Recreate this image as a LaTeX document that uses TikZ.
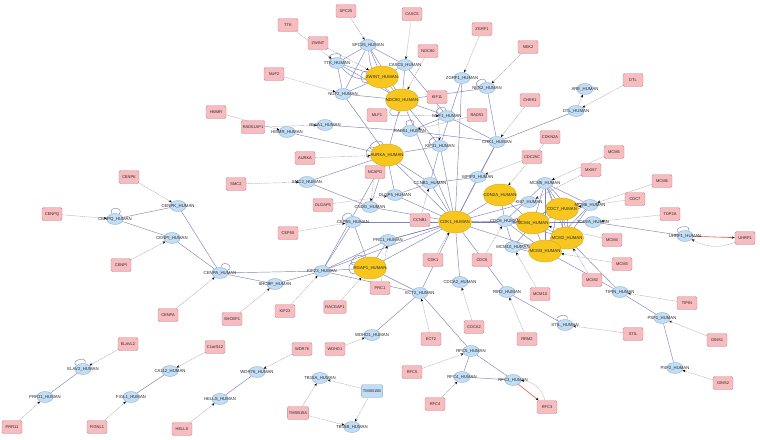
\documentclass[tikz,border=0pt]{standalone}
\usepackage{fontspec}
\setmainfont{Liberation Sans}
\usetikzlibrary{arrows.meta,shapes.geometric}
\pgfdeclarelayer{bg}
\pgfdeclarelayer{paper}
\pgfsetlayers{paper,bg,main}
\definecolor{pinkf}{HTML}{F6BCC0}
\definecolor{pinkd}{HTML}{C98A8E}
\definecolor{bluef}{HTML}{C2DDF4}
\definecolor{blued}{HTML}{8DB2D8}
\definecolor{yelf}{HTML}{F7C71F}
\definecolor{yeld}{HTML}{D9AA10}
\definecolor{ppic}{HTML}{6E6EAE}
\definecolor{mapc}{HTML}{ABABAB}
\definecolor{redc}{HTML}{E4573A}
\newcommand\hu[1]{#1\_HUMAN}
\begin{document}
\begin{tikzpicture}[x=1pt,y=-1pt,
  lab/.style={font=\fontsize{4.3}{4.3}\selectfont, inner sep=0pt, text=black!85},
  bn/.style={ellipse, draw=blued, fill=bluef, line width=0.4pt, minimum width=16pt, minimum height=11pt, inner sep=0pt},
  yn/.style={ellipse, draw=yeld, fill=yelf, line width=0.4pt, minimum width=33pt, minimum height=22pt, inner sep=0pt},
  pn/.style={rectangle, rounded corners=1.5pt, draw=pinkd, fill=pinkf, line width=0.4pt, minimum width=20pt, minimum height=13pt, inner xsep=1.5pt, font=\fontsize{4}{4}\selectfont, text=black!85},
  bbx/.style={pn, draw=blued, fill=bluef},
  ppi/.style={draw=ppic, line width=0.45pt, draw opacity=0.85},
  mapl/.style={draw=mapc, line width=0.4pt, dash pattern=on 1.2pt off 0.6pt, -{Stealth[length=3pt,width=2.4pt,color=black]}},
  redl/.style={draw=redc, line width=0.6pt, -{Stealth[length=3pt,width=2.4pt,color=black]}},
  sl/.style={ppi, looseness=1, min distance=9pt, max distance=9pt}
]
\begin{pgfonlayer}{paper}
\fill[white] (0,0) rectangle (760,439);
\end{pgfonlayer}
\useasboundingbox (0,0) rectangle (760,439);

% ---------- pink gene boxes ----------
\node[pn] (spc25) at (346,11) {SPC25};
\node[pn] (casc5) at (412,14) {CASC5};
\node[pn] (zgrf1) at (482,29) {ZGRF1};
\node[pn] (nek2) at (528,47) {NEK2};
\node[pn] (ttk) at (288,25) {TTK};
\node[pn] (zwint) at (318,43) {ZWINT};
\node[pn] (ndc80) at (428,51) {NDC80};
\node[pn] (nuf2) at (274,74) {NUF2};
\node[pn] (kif11) at (437,97) {KIF11};
\node[pn] (mlf1) at (377,115) {MLF1};
\node[pn] (rad51) at (477,115) {RAD51};
\node[pn] (chek1) at (530,100) {CHEK1};
\node[pn] (dtl) at (633,80) {DTL};
\node[pn] (hmmr) at (216,112) {HMMR};
\node[pn] (rad51ap1) at (253,127) {RAD51AP1};
\node[pn] (cdkn2a) at (550,137) {CDKN2A};
\node[pn] (aurka) at (305,158) {AURKA};
\node[pn] (ncapg) at (375,172) {NCAPG};
\node[pn] (smc2) at (236,184) {SMC2};
\node[pn] (dlgap5) at (323,205) {DLGAP5};
\node[pn] (cep55) at (288,233) {CEP55};
\node[pn] (cdc25c) at (532,157) {CDC25C};
\node[pn] (mcm5) at (614,152) {MCM5};
\node[pn] (mki67) at (591,170) {MKI67};
\node[pn] (mcm6) at (662,181) {MCM6};
\node[pn] (cdc7) at (635,199) {CDC7};
\node[pn] (top2a) at (670,214) {TOP2A};
\node[pn] (mcm4) at (612,240) {MCM4};
\node[pn] (mcm3) at (622,264) {MCM3};
\node[pn] (mcm2) at (592,280) {MCM2};
\node[pn] (uhrf1) at (745,238) {UHRF1};
\node[pn] (ccnb1) at (420,220) {CCNB1};
\node[pn] (cdk1) at (433,260) {CDK1};
\node[pn] (cdc6) at (482,260) {CDC6};
\node[pn] (cenpk) at (129,177) {CENPK};
\node[pn] (cenpq) at (52,214) {CENPQ};
\node[pn] (cenpi) at (121,265) {CENPI};
\node[pn] (cenpa) at (168,315) {CENPA};
\node[pn] (shcbp1) at (232,319) {SHCBP1};
\node[pn] (kif23) at (285,311) {KIF23};
\node[pn] (racgap1) at (335,307) {RACGAP1};
\node[pn] (prc1) at (380,288) {PRC1};
\node[pn] (mcm10) at (540,294) {MCM10};
\node[pn] (cdca2) at (474,327) {CDCA2};
\node[pn] (ect2) at (431,339) {ECT2};
\node[pn] (rrm2) at (527,339) {RRM2};
\node[pn] (tipin) at (687,303) {TIPIN};
\node[pn] (stil) at (633,334) {STIL};
\node[pn] (gins1) at (717,340) {GINS1};
\node[pn] (gins2) at (723,383) {GINS2};
\node[pn] (rfc5) at (412,372) {RFC5};
\node[pn] (rfc4) at (435,404) {RFC4};
\node[pn] (rfc3) at (547,407) {RFC3};
\node[pn] (elavl2) at (128,344) {ELAVL2};
\node[pn] (c1orf112) at (215,347) {C1orf112};
\node[pn] (wdr76) at (302,349) {WDR76};
\node[pn] (wdhd1) at (335,349) {WDHD1};
\node[pn] (tmsb15a) at (298,413) {TMSB15A};
\node[pn] (prr11) at (12,427) {PRR11};
\node[pn] (fignl1) at (97,427) {FIGNL1};
\node[pn] (hells) at (182,429) {HELLS};
\node[bbx] (tmsb15b) at (372,391) {TMSB15B};

% ---------- yellow hub proteins ----------
\node[yn,label={[lab]center:\hu{ZWINT}}] (zwinth) at (382,77) {};
\node[yn,label={[lab]center:\hu{NDC80}}] (ndc80h) at (402,100) {};
\node[yn,label={[lab]center:\hu{AURKA}}] (aurkah) at (387,155) {};
\node[yn,label={[lab]center:\hu{CDK1}}] (cdk1h) at (455,222) {};
\node[yn,label={[lab]center:\hu{CDN2A}}] (cdn2ah) at (500,195) {};
\node[yn,label={[lab]center:\hu{CDC7}}] (cdc7h) at (562,209) {};
\node[yn,label={[lab]center:\hu{MCM4}}] (mcm4h) at (533,223) {};
\node[yn,label={[lab]center:\hu{MCM2}}] (mcm2h) at (567,238) {};
\node[yn,label={[lab]center:\hu{MCM3}}] (mcm3h) at (545,251) {};
\node[yn,label={[lab]center:\hu{RGAP1}}] (rgap1h) at (370,268) {};

% ---------- blue proteins ----------
\node[bn,label={[lab]center:\hu{SPC25}}] (spc25h) at (368,45) {};
\node[bn,label={[lab]center:\hu{TTK}}] (ttkh) at (337,63) {};
\node[bn,label={[lab]center:\hu{NUF2}}] (nuf2h) at (343,94) {};
\node[bn,label={[lab]center:\hu{CASC5}}] (casc5h) at (405,65) {};
\node[bn,label={[lab]center:\hu{ZGRF1}}] (zgrf1h) at (462,78) {};
\node[bn,label={[lab]center:\hu{NEK2}}] (nek2h) at (487,88) {};
\node[bn,label={[lab]center:\hu{MLF1}}] (mlf1h) at (447,116) {};
\node[bn,label={[lab]center:\hu{RAD51}}] (rad51h) at (410,131) {};
\node[bn,label={[lab]center:\hu{KIF11}}] (kif11h) at (440,146) {};
\node[bn,label={[lab]center:\hu{CHK1}}] (chk1h) at (497,142) {};
\node[bn,label={[lab]center:\hu{DTL}}] (dtlh) at (576,111) {};
\node[bn,label={[lab]center:\hu{ARE}}] (areh) at (585,89) {};
\node[bn,label={[lab]center:\hu{HMMR}}] (hmmrh) at (287,132) {};
\node[bn,label={[lab]center:\hu{R51A1}}] (r51a1h) at (325,125) {};
\node[bn,label={[lab]center:\hu{SMC2}}] (smc2h) at (307,182) {};
\node[bn,label={[lab]center:\hu{CNDG}}] (cndgh) at (370,207) {};
\node[bn,label={[lab]center:\hu{DLGP5}}] (dlgp5h) at (395,195) {};
\node[bn,label={[lab]center:\hu{CEP55}}] (cep55h) at (353,222) {};
\node[bn,label={[lab]center:\hu{CCNB1}}] (ccnb1h) at (430,183) {};
\node[bn,label={[lab]center:\hu{MPIP3}}] (mpip3h) at (478,177) {};
\node[bn,label={[lab]center:\hu{MCM5}}] (mcm5h) at (545,183) {};
\node[bn,label={[lab]center:\hu{KI67}}] (ki67h) at (529,202) {};
\node[bn,label={[lab]center:\hu{MCM6}}] (mcm6h) at (590,205) {};
\node[bn,label={[lab]center:\hu{TOP2A}}] (top2ah) at (593,222) {};
\node[bn,label={[lab]center:\hu{UHRF1}}] (uhrf1h) at (685,236) {};
\node[bn,label={[lab]center:\hu{CDC6}}] (cdc6h) at (505,221) {};
\node[bn,label={[lab]center:\hu{MCM10}}] (mcm10h) at (513,247) {};
\node[bn,label={[lab]center:\hu{CDCA2}}] (cdca2h) at (460,282) {};
\node[bn,label={[lab]center:\hu{ECT2}}] (ect2h) at (420,293) {};
\node[bn,label={[lab]center:\hu{RIR2}}] (rir2h) at (507,292) {};
\node[bn,label={[lab]center:\hu{STIL}}] (stilh) at (565,325) {};
\node[bn,label={[lab]center:\hu{TIPIN}}] (tipinh) at (620,292) {};
\node[bn,label={[lab]center:\hu{PSF1}}] (psf1h) at (662,318) {};
\node[bn,label={[lab]center:\hu{PSF2}}] (psf2h) at (675,368) {};
\node[bn,label={[lab]center:\hu{RFC5}}] (rfc5h) at (471,351) {};
\node[bn,label={[lab]center:\hu{RFC4}}] (rfc4h) at (462,377) {};
\node[bn,label={[lab]center:\hu{RFC3}}] (rfc3h) at (513,380) {};
\node[bn,label={[lab]center:\hu{PRC1}}] (prc1h) at (388,240) {};
\node[bn,label={[lab]center:\hu{KIF23}}] (kif23h) at (322,271) {};
\node[bn,label={[lab]center:\hu{SHCBP}}] (shcbph) at (275,284) {};
\node[bn,label={[lab]center:\hu{CENPA}}] (cenpah) at (220,273) {};
\node[bn,label={[lab]center:\hu{CENPK}}] (cenpkh) at (178,206) {};
\node[bn,label={[lab]center:\hu{CENPQ}}] (cenpqh) at (115,219) {};
\node[bn,label={[lab]center:\hu{CENPI}}] (cenpih) at (172,238) {};
\node[bn,label={[lab]center:\hu{ELAV2}}] (elav2h) at (83,369) {};
\node[bn,label={[lab]center:\hu{PRR11}}] (prr11h) at (45,397) {};
\node[bn,label={[lab]center:\hu{CA112}}] (ca112h) at (170,371) {};
\node[bn,label={[lab]center:\hu{FIGL1}}] (figl1h) at (131,397) {};
\node[bn,label={[lab]center:\hu{WDR76}}] (wdr76h) at (257,372) {};
\node[bn,label={[lab]center:\hu{HELLS}}] (hellsh) at (220,399) {};
\node[bn,label={[lab]center:\hu{WDHD1}}] (wdhd1h) at (372,335) {};
\node[bn,label={[lab]center:\hu{TB15A}}] (tb15ah) at (320,378) {};
\node[bn,label={[lab]center:\hu{TB15B}}] (tb15bh) at (352,427) {};

\begin{pgfonlayer}{bg}
% protein-protein interactions
\foreach \a/\b in {spc25h/ttkh, spc25h/zwinth, spc25h/nuf2h, spc25h/ndc80h, spc25h/casc5h,
  ttkh/zwinth, ttkh/nuf2h, ttkh/ndc80h, nuf2h/zwinth, nuf2h/ndc80h, nuf2h/aurkah,
  zwinth/ndc80h, zwinth/casc5h, casc5h/ndc80h, casc5h/mlf1h,
  ndc80h/kif11h, ndc80h/aurkah, ndc80h/cdk1h, ndc80h/nek2h, ndc80h/mlf1h,
  zgrf1h/kif11h, zgrf1h/cdk1h, nek2h/chk1h,
  chk1h/dtlh, chk1h/cdk1h, chk1h/mpip3h, chk1h/rad51h, chk1h/mlf1h,
  rad51h/r51a1h, rad51h/mlf1h, hmmrh/aurkah,
  aurkah/cdk1h, aurkah/ccnb1h, aurkah/kif11h, aurkah/smc2h, aurkah/cndgh, aurkah/dlgp5h, aurkah/kif23h,
  smc2h/cndgh, cndgh/cdk1h, dlgp5h/cdk1h, dlgp5h/ccnb1h,
  cep55h/kif23h, cep55h/cdk1h, ccnb1h/cdk1h, ccnb1h/mpip3h, ccnb1h/kif11h, mpip3h/cdk1h,
  cdn2ah/cdk1h, cdn2ah/mcm4h, cdn2ah/cdc6h,
  cdk1h/cdc6h, cdk1h/mcm4h, cdk1h/mcm3h, cdk1h/top2ah, cdk1h/cdca2h, cdk1h/ect2h, cdk1h/prc1h,
  cdk1h/rgap1h, cdk1h/kif23h, cdk1h/rir2h, cdk1h/kif11h, cdk1h/ki67h,
  mcm5h/mcm4h, mcm5h/mcm2h, mcm5h/mcm3h, mcm5h/mcm6h, mcm5h/cdc7h, mcm5h/cdc6h,
  mcm4h/mcm2h, mcm4h/mcm3h, mcm4h/mcm6h, mcm4h/cdc6h, mcm4h/cdc7h, mcm4h/mcm10h,
  mcm2h/mcm3h, mcm2h/mcm6h, mcm2h/cdc6h, mcm2h/cdc7h, mcm2h/mcm10h,
  mcm3h/cdc6h, mcm3h/mcm6h, mcm3h/mcm10h, cdc6h/mcm10h, cdc6h/cdc7h, mcm6h/cdc7h,
  top2ah/uhrf1h,
  cenpqh/cenpkh, cenpqh/cenpih, cenpkh/cenpah, cenpih/cenpah, cenpah/kif23h, cenpah/shcbph,
  shcbph/kif23h, kif23h/rgap1h, kif23h/prc1h, kif23h/ect2h,
  rgap1h/ect2h, rgap1h/prc1h, rgap1h/cep55h, prc1h/cdk1h,
  ect2h/rfc5h, ect2h/wdhd1h, rir2h/stilh,
  rfc5h/rfc4h, rfc5h/rfc3h, rfc4h/rfc3h,
  tipinh/psf1h, psf1h/psf2h, tipinh/mcm2h, tipinh/mcm3h,
  elav2h/prr11h, ca112h/figl1h, wdr76h/hellsh}
  \draw[ppi] (\a) -- (\b);
\foreach \a/\b in {mcm5h/mcm2h, mcm4h/mcm6h, mcm5h/mcm3h, mcm2h/mcm10h, cdc7h/mcm3h, ndc80h/spc25h, zwinth/ttkh}
  \draw[ppi] (\a) to[bend left=25] (\b);
% self loops
\foreach \n/\o/\i in {ttkh/150/60, nek2h/170/100, mlf1h/170/100, kif11h/170/100, rad51h/60/120,
  aurkah/160/110, aurkah/190/150, cep55h/170/100, cenpqh/120/50, cenpah/80/20, elav2h/150/70,
  rgap1h/170/120, rgap1h/200/160, uhrf1h/150/60, stilh/150/70, zwinth/200/160, ndc80h/260/220}
  \draw[sl] (\n) to[out=\o,in=\i] (\n);
% gene -> protein
\foreach \a/\b in {spc25/spc25h, casc5/casc5h, zgrf1/zgrf1h, nek2/nek2h, ttk/ttkh, zwint/zwinth,
  ndc80/ndc80h, nuf2/nuf2h, kif11/kif11h, mlf1/mlf1h, rad51/rad51h, chek1/chk1h, dtl/dtlh, dtlh/areh,
  hmmr/hmmrh, rad51ap1/r51a1h, cdkn2a/cdn2ah, aurka/aurkah, ncapg/cndgh, smc2/smc2h, dlgap5/dlgp5h,
  cep55/cep55h, cdc25c/mpip3h, mcm5/mcm5h, mki67/ki67h, mcm6/mcm6h, cdc7/cdc7h, top2a/top2ah,
  mcm4/mcm4h, mcm3/mcm3h, mcm2/mcm2h, ccnb1/ccnb1h, cdk1/cdk1h, cdc6/cdc6h,
  cenpk/cenpkh, cenpq/cenpqh, cenpi/cenpih, cenpa/cenpah, shcbp1/shcbph, kif23/kif23h,
  racgap1/rgap1h, prc1/prc1h, mcm10/mcm10h, cdca2/cdca2h, ect2/ect2h, rrm2/rir2h,
  tipin/tipinh, stil/stilh, gins1/psf1h, gins2/psf2h, rfc5/rfc5h, rfc4/rfc4h,
  elavl2/elav2h, c1orf112/ca112h, wdr76/wdr76h, wdhd1/wdhd1h,
  tmsb15a/tb15ah, tmsb15a/tb15bh, tmsb15b/tb15ah, tmsb15b/tb15bh,
  prr11/prr11h, fignl1/figl1h, hells/hellsh}
  \draw[mapl] (\a) -- (\b);
\draw[redl] (uhrf1h) -- (uhrf1);
\draw[mapl] (uhrf1) to[bend left=25] (uhrf1h);
\draw[redl] (rfc3h) -- (rfc3);
\draw[mapl] (rfc3) to[bend right=35] (rfc3h);
\end{pgfonlayer}
\end{tikzpicture}
\end{document}
